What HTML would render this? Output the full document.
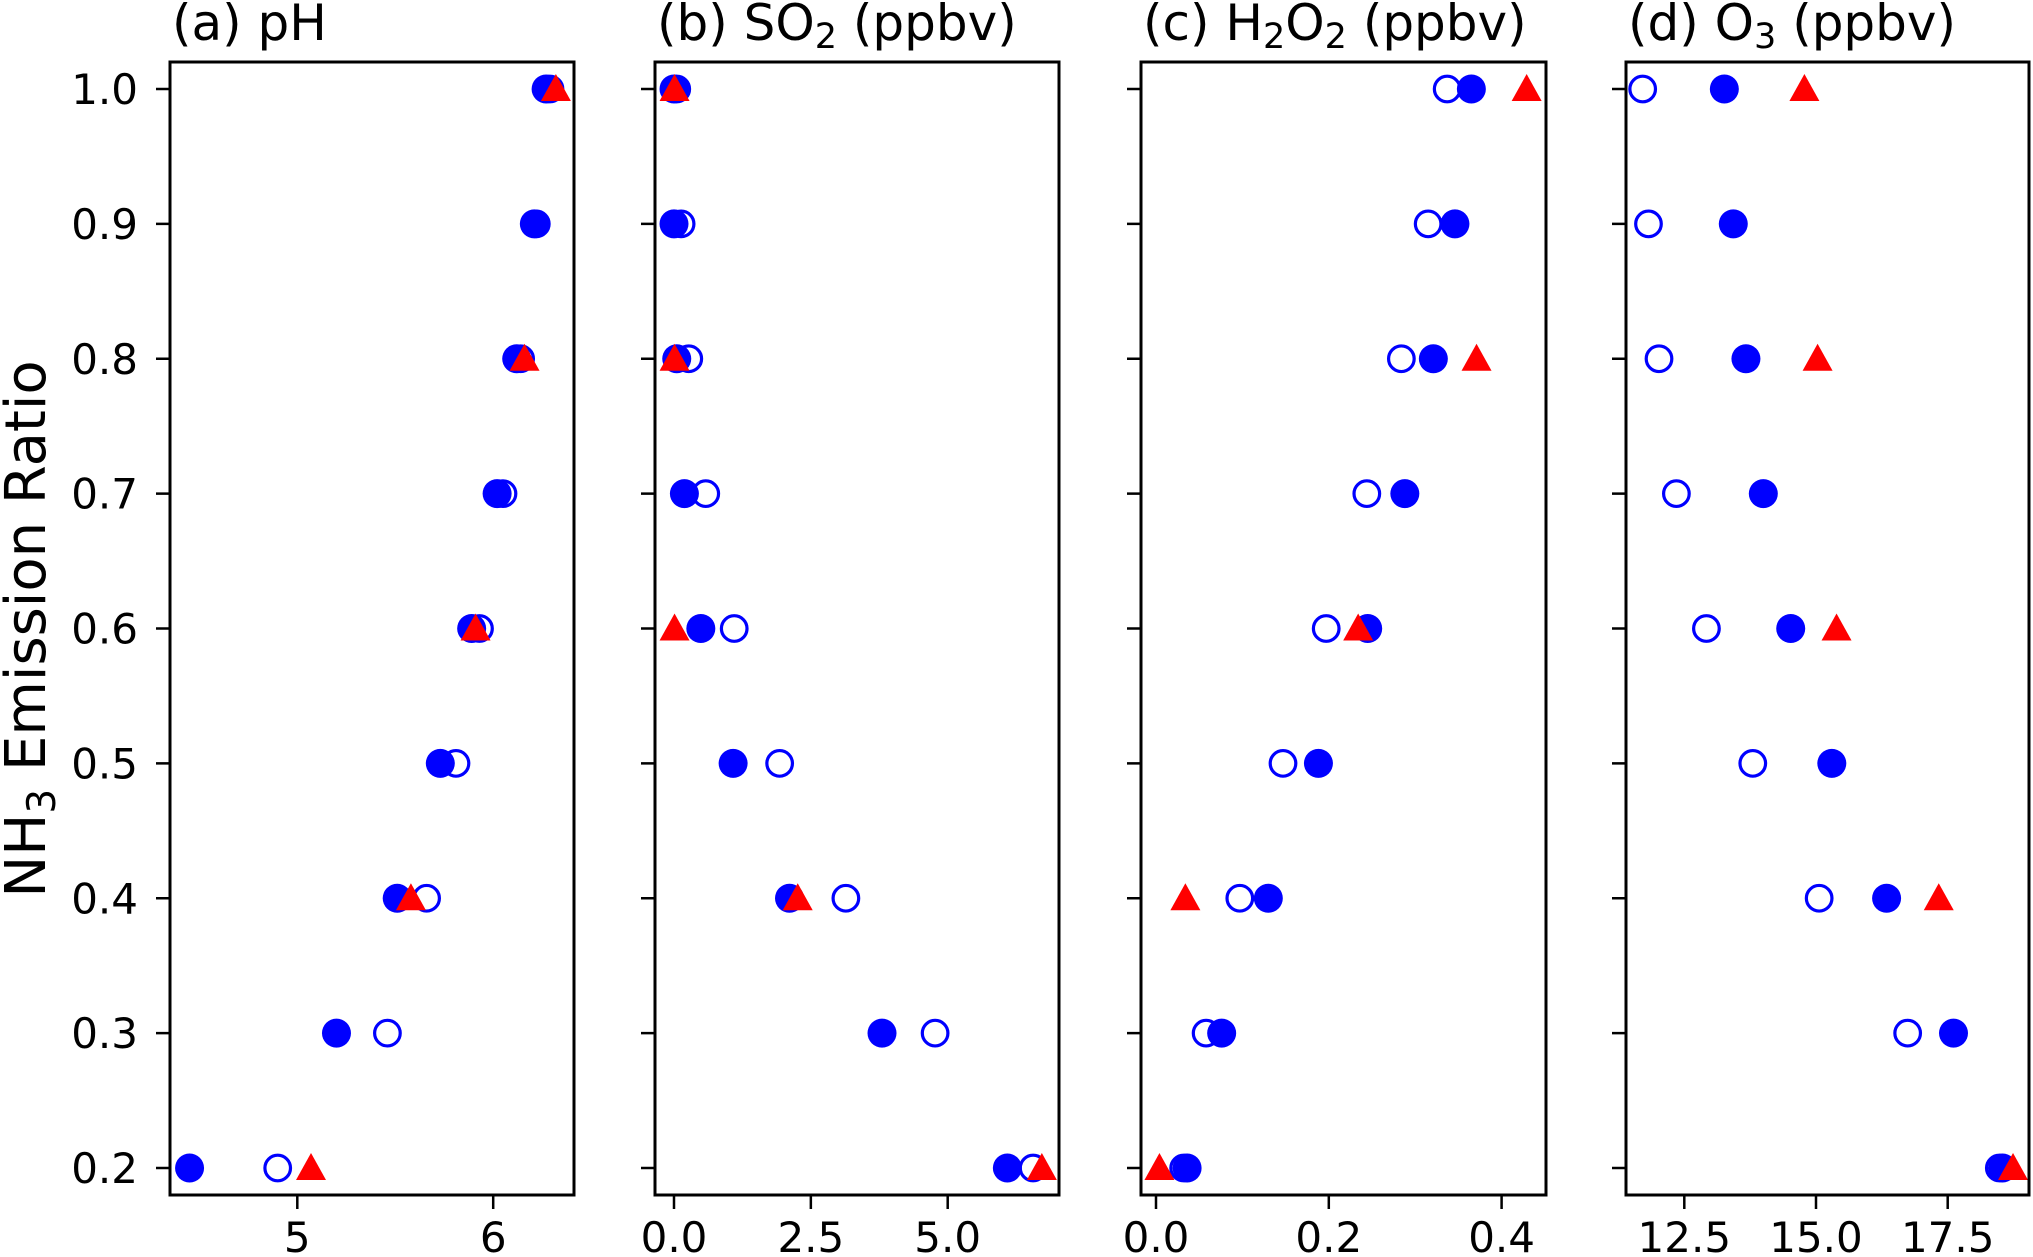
<!DOCTYPE html>
<html><head><meta charset="utf-8"><style>
html,body{margin:0;padding:0;background:#fff;}
svg{display:block;font-family:"DejaVu Sans","Liberation Sans",sans-serif;}
</style></head><body>
<svg id="chart" width="2033" height="1257" viewBox="0 0 2033 1257"></svg>
<script>
// ---- data ----
const ratios = [1.0, 0.9, 0.8, 0.7, 0.6, 0.5, 0.4, 0.3, 0.2];
const triRatios = [1.0, 0.8, 0.6, 0.4, 0.2];
const yTicks = [1.0, 0.9, 0.8, 0.7, 0.6, 0.5, 0.4, 0.3, 0.2];
const yTickLabels = ["1.0","0.9","0.8","0.7","0.6","0.5","0.4","0.3","0.2"];

const phFilled = [6.27, 6.21, 6.12, 6.02, 5.89, 5.73, 5.51, 5.20, 4.45];
const phOpen   = [6.29, 6.22, 6.14, 6.05, 5.93, 5.81, 5.66, 5.46, 4.90];
const phTri    = [6.32, 6.16, 5.91, 5.58, 5.07];
const phTicks = [5, 6];
const phTickLabels = ["5", "6"];

const so2Filled = [0.0, 0.0, 0.05, 0.19, 0.49, 1.08, 2.11, 3.80, 6.09];
const so2Open   = [0.05, 0.13, 0.27, 0.58, 1.10, 1.93, 3.14, 4.77, 6.56];
const so2Tri    = [0.01, 0.01, 0.01, 2.26, 6.72];
const so2Ticks = [0.0, 2.5, 5.0];
const so2TickLabels = ["0.0", "2.5", "5.0"];

const h2o2Filled = [0.365, 0.346, 0.321, 0.288, 0.245, 0.188, 0.130, 0.076, 0.036];
const h2o2Open   = [0.337, 0.315, 0.284, 0.244, 0.197, 0.147, 0.097, 0.058, 0.032];
const h2o2Tri    = [0.429, 0.371, 0.234, 0.034, 0.004];
const h2o2Ticks = [0.0, 0.2, 0.4];
const h2o2TickLabels = ["0.0", "0.2", "0.4"];

const o3Filled = [13.26, 13.43, 13.67, 14.00, 14.52, 15.30, 16.34, 17.61, 18.54];
const o3Open   = [11.71, 11.82, 12.02, 12.35, 12.92, 13.80, 15.06, 16.74, 18.48];
const o3Tri    = [14.78, 15.03, 15.39, 17.33, 18.74];
const o3Ticks = [12.5, 15.0, 17.5];
const o3TickLabels = ["12.5", "15.0", "17.5"];

// ---- layout ----
const NS = "http://www.w3.org/2000/svg";
const svg = document.getElementById("chart");
const TOP = 62, BOT = 1195;
const yScale = v => 89 + (1.0 - v) * 1348.75;

function mk(tag, attrs, parent) {
  const e = document.createElementNS(NS, tag);
  for (const k in attrs) e.setAttribute(k, attrs[k]);
  (parent || svg).appendChild(e);
  return e;
}

const panels = [
  {id:"ph", x0:170, x1:574, v0:5, p0:297.3, v1:6, p1:493.2, filled:phFilled, open:phOpen, tri:phTri, ticks:phTicks, labels:phTickLabels, title:[["(a) pH",0]]},
  {id:"so2", x0:655, x1:1059, v0:0, p0:674, v1:5, p1:947.7, filled:so2Filled, open:so2Open, tri:so2Tri, ticks:so2Ticks, labels:so2TickLabels, title:[["(b) SO",0],["2",1],[" (ppbv)",0]]},
  {id:"h2o2", x0:1141, x1:1546, v0:0, p0:1156, v1:0.4, p1:1501.6, filled:h2o2Filled, open:h2o2Open, tri:h2o2Tri, ticks:h2o2Ticks, labels:h2o2TickLabels, title:[["(c) H",0],["2",1],["O",0],["2",1],[" (ppbv)",0]]},
  {id:"o3", x0:1626, x1:2029, v0:12.5, p0:1684.3, v1:17.5, p1:1947.7, filled:o3Filled, open:o3Open, tri:o3Tri, ticks:o3Ticks, labels:o3TickLabels, title:[["(d) O",0],["3",1],[" (ppbv)",0]]}
];

panels.forEach((p, pi) => {
  const xs = v => p.p0 + (v - p.v0) * (p.p1 - p.p0) / (p.v1 - p.v0);
  const g = mk("g", {});
  
  

  // title
  const t = mk("text", {x: p.x0 + 2, y: 40, "font-size": 50, fill: "#000"}, g);
  
  
  let shifted = false;
  p.title.forEach(([s, sub]) => {
    let dy = 0;
    if (sub && !shifted) { dy = 8; shifted = true; }
    else if (!sub && shifted) { dy = -8; shifted = false; }
    const ts = mk("tspan", {dy: dy, "font-size": sub ? 35 : 50}, t);
    ts.textContent = s;
  });

  // y ticks
  yTicks.forEach((v, i) => {
    const y = yScale(v);
    const tk = mk("line", {x1: p.x0 - 14, x2: p.x0, y1: y, y2: y, stroke: "#000", "stroke-width": 2.5}, g);
    
    
    if (pi === 0) {
      const lb = mk("text", {x: 138, y: y + 15, "text-anchor": "end", "font-size": 42, fill: "#000"}, g);
      
      
      lb.textContent = yTickLabels[i];
    }
  });
  // x ticks
  p.ticks.forEach((v, i) => {
    const x = xs(v);
    const tk = mk("line", {x1: x, x2: x, y1: BOT, y2: BOT + 14, stroke: "#000", "stroke-width": 2.5}, g);
    
    
    const lb = mk("text", {x: x, y: 1252, "text-anchor": "middle", "font-size": 42, fill: "#000"}, g);
    
    
    lb.textContent = p.labels[i];
  });

  // markers
  const clip = mk("clipPath", {id: "clip" + pi}, g);
  mk("rect", {x: p.x0, y: TOP, width: p.x1 - p.x0, height: BOT - TOP}, clip);
  const mg = mk("g", {"clip-path": "url(#clip" + pi + ")"}, g);
  
  
  ratios.forEach((r, i) => {
    const c = mk("circle", {cx: xs(p.filled[i]), cy: yScale(r), r: 14.5, fill: "#0000ff"}, mg);
    
    
  });
  ratios.forEach((r, i) => {
    const c = mk("circle", {cx: xs(p.open[i]), cy: yScale(r), r: 12.8, fill: "none", stroke: "#0000ff", "stroke-width": 3.2}, mg);
    
    
  });
  triRatios.forEach((r, i) => {
    const x = xs(p.tri[i]), y = yScale(r);
    const tr = mk("polygon", {points: `${x},${y-15} ${x-15},${y+12} ${x+15},${y+12}`, fill: "#ff0000"}, mg);
    
    
  });

  // frame
  const fr = mk("rect", {x: p.x0, y: TOP, width: p.x1 - p.x0, height: BOT - TOP, fill: "none", stroke: "#000", "stroke-width": 3}, g);
  
  
});

// y-axis title
const yt = mk("text", {x: 0, y: 0, transform: "translate(45,629) rotate(-90)", "text-anchor": "middle", "font-size": 56, fill: "#000"});


const a = mk("tspan", {}, yt); a.textContent = "NH";
const b = mk("tspan", {"font-size": 39, dy: 10}, yt); b.textContent = "3";
const c = mk("tspan", {dy: -10}, yt); c.textContent = " Emission Ratio";
</script>
</body></html>
